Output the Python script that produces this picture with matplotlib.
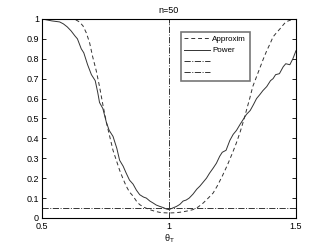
import matplotlib
matplotlib.use("Agg")
import matplotlib.pyplot as plt

# power curve (simulated, jagged)
power_x = [0.50, 0.52, 0.54, 0.57, 0.585, 0.60, 0.615, 0.63, 0.64, 0.655, 0.665, 0.68,
           0.695, 0.71, 0.72, 0.727, 0.74, 0.754, 0.765, 0.78, 0.795, 0.806, 0.82, 0.832,
           0.845, 0.859, 0.872, 0.885, 0.90, 0.911, 0.925, 0.938, 0.95, 0.964, 0.978, 0.99,
           1.00, 1.015, 1.03, 1.043, 1.056, 1.068, 1.08, 1.095, 1.11, 1.122, 1.135, 1.148,
           1.16, 1.174, 1.187, 1.20, 1.21, 1.225, 1.24, 1.253, 1.266, 1.28, 1.29, 1.305,
           1.32, 1.333, 1.345, 1.358, 1.37, 1.385, 1.40, 1.41, 1.42, 1.435, 1.45, 1.46,
           1.476, 1.488, 1.50]
power_y = [1.00, 0.995, 0.99, 0.985, 0.975, 0.96, 0.94, 0.915, 0.90, 0.85, 0.83, 0.77,
           0.72, 0.69, 0.63, 0.58, 0.55, 0.48, 0.44, 0.41, 0.35, 0.29, 0.26, 0.225,
           0.19, 0.17, 0.14, 0.117, 0.105, 0.10, 0.085, 0.075, 0.065, 0.058, 0.052, 0.045,
           0.042, 0.05, 0.058, 0.068, 0.085, 0.09, 0.10, 0.12, 0.145, 0.16, 0.18, 0.20,
           0.225, 0.25, 0.275, 0.31, 0.33, 0.34, 0.39, 0.42, 0.44, 0.47, 0.49, 0.52,
           0.54, 0.57, 0.60, 0.62, 0.64, 0.66, 0.69, 0.70, 0.72, 0.725, 0.76, 0.775,
           0.77, 0.80, 0.84]

# normal approximation
approx_x = [0.50, 0.60, 0.63, 0.648, 0.662, 0.675, 0.688, 0.70, 0.714, 0.727, 0.74, 0.754,
            0.767, 0.78, 0.793, 0.806, 0.82, 0.832, 0.845, 0.859, 0.872, 0.885, 0.905, 0.924,
            0.944, 0.964, 0.982, 1.00, 1.02, 1.04, 1.06, 1.08, 1.095, 1.115, 1.135, 1.155,
            1.174, 1.19, 1.21, 1.23, 1.25, 1.265, 1.28, 1.293, 1.305, 1.318, 1.33, 1.345,
            1.36, 1.372, 1.385, 1.398, 1.41, 1.423, 1.437, 1.45, 1.46, 1.48, 1.50]
approx_y = [1.00, 1.00, 0.998, 0.985, 0.965, 0.93, 0.88, 0.81, 0.74, 0.66, 0.57, 0.48,
            0.41, 0.34, 0.29, 0.24, 0.195, 0.16, 0.13, 0.11, 0.085, 0.067, 0.052, 0.042,
            0.034, 0.028, 0.026, 0.025, 0.026, 0.028, 0.032, 0.037, 0.042, 0.055, 0.075, 0.10,
            0.125, 0.16, 0.21, 0.265, 0.326, 0.375, 0.43, 0.485, 0.54, 0.60, 0.66, 0.71,
            0.76, 0.80, 0.84, 0.875, 0.91, 0.93, 0.95, 0.97, 0.985, 0.995, 1.00]

alpha_level = 0.05
theta0 = 1.0

plt.rcParams['font.family'] = ['Liberation Sans', 'DejaVu Sans']
plt.rcParams['mathtext.fontset'] = 'custom'
plt.rcParams['mathtext.rm'] = 'Liberation Sans'
plt.rcParams['mathtext.it'] = 'Liberation Sans'

fig = plt.figure(figsize=(3.27, 2.46), dpi=100)
ax = fig.add_axes([0.128, 0.114, 0.777, 0.809])

c = '#333333'
ax.plot(approx_x, approx_y, '--', color=c, lw=0.7, dashes=(4, 3), label='Approxim')
ax.plot(power_x, power_y, '-', color=c, lw=0.7, label='Power')
ax.plot([0.5, 1.5], [alpha_level, alpha_level], '-.', color=c, lw=0.7, label=' ')
ax.plot([theta0, theta0], [0, 1], '-.', color=c, lw=0.7, label=' ')

ax.set_xlim(0.5, 1.5)
ax.set_ylim(0, 1)
ax.set_xticks([0.5, 1, 1.5])
ax.set_xticklabels(['0.5', '1', '1.5'])
ax.set_yticks([0, 0.1, 0.2, 0.3, 0.4, 0.5, 0.6, 0.7, 0.8, 0.9, 1])
ax.set_yticklabels(['0', '0.1', '0.2', '0.3', '0.4', '0.5', '0.6', '0.7', '0.8', '0.9', '1'])
ax.tick_params(direction='in', top=True, right=True, labelsize=6.5, length=3, width=0.6, pad=2)
ax.tick_params(axis='x', pad=3)
for s in ax.spines.values():
    s.set_linewidth(0.8)

ax.set_title('n=50', fontsize=6.5, pad=4)
ax.set_xlabel(r'$\theta_T$', fontsize=6.5, labelpad=1)

leg = ax.legend(loc='upper left', bbox_to_anchor=(0.53, 0.955), handlelength=3.2,
                handletextpad=0.3, borderpad=0.45, labelspacing=0.45, fancybox=False,
                framealpha=1, prop={'size': 5.8})
leg.get_frame().set_edgecolor('#777777')
leg.get_frame().set_linewidth(1.2)

fig.savefig('out.png', dpi=100)
